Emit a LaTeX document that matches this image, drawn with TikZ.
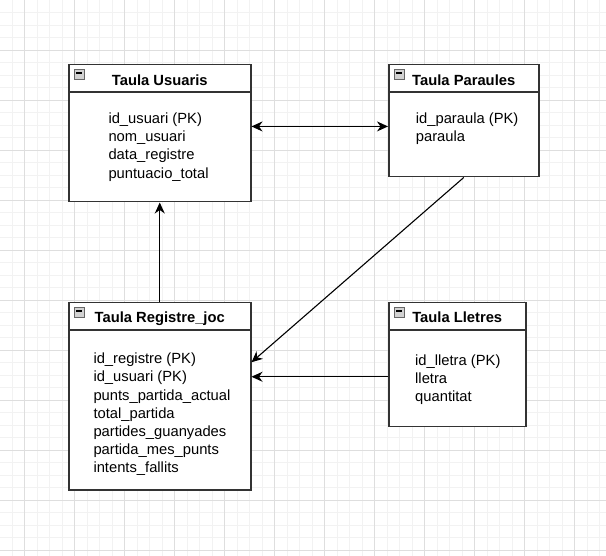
\documentclass[tikz,border=0pt]{standalone}
\usepackage{fontspec}
\setmainfont{Liberation Sans}
\usetikzlibrary{arrows.meta}
\definecolor{gridminor}{RGB}{242,242,242}
\definecolor{gridmajor}{RGB}{222,222,222}
\definecolor{boxline}{RGB}{51,51,51}
\begin{document}
\begin{tikzpicture}[x=1pt,y=1pt]
\tikzstyle{every node}+=[inner sep=0pt]
\tikzstyle{table}=[draw=boxline,line width=1.5pt,fill=white,anchor=north west]
\tikzstyle{title}=[anchor=base,font=\fontsize{14.75}{18}\selectfont\bfseries]
\tikzstyle{fields}=[anchor=north west,align=left,font=\fontsize{14.75}{18.2}\selectfont]
\tikzstyle{icon}=[draw=gray!80!black,fill=gray!35,line width=0.6pt,minimum size=10pt,
  path picture={\draw[black,line width=1.2pt] ([xshift=2pt,yshift=1pt]path picture bounding box.west) -- ([xshift=-2pt,yshift=1pt]path picture bounding box.east);}]
\tikzstyle{link}=[black,line width=1.1pt,-{Stealth[length=11pt,width=10pt,inset=3.5pt]}]
\useasboundingbox (0,0) rectangle (606,-556);
\foreach \i in {0,...,48} \draw [gridminor,line width=0.8pt] ({12.1+12.5*\i},0) -- ++(0,-556);
\foreach \i in {1,...,44} \draw [gridminor,line width=0.8pt] (0,{-12.5*\i}) -- ++(606,0);
\foreach \i in {0,...,11} \draw [gridmajor,line width=0.9pt] ({24.6+50*\i},0) -- ++(0,-556);
\foreach \i in {1,...,11} \draw [gridmajor,line width=0.9pt] (0,{-50*\i}) -- ++(606,0);
\node [table,minimum width=182pt,minimum height=137pt] (usuaris) at (68,-64) {};
\draw [boxline,line width=1.5pt] ([yshift=-28pt]usuaris.north west) -- ([yshift=-28pt]usuaris.north east);
\node [icon] (usuarisi) at ([xshift=11pt,yshift=-10pt]usuaris.north west) {};
\node [title] (usuarist) at ([yshift=-21.5pt]usuaris.north) {Taula Usuaris};
\node [fields] (usuarisf) at (108.3,-112.7) {id\_usuari (PK)\\nom\_usuari\\data\_registre\\puntuacio\_total};
\node [table,minimum width=150pt,minimum height=112pt] (paraules) at (388,-64) {};
\draw [boxline,line width=1.5pt] ([yshift=-28pt]paraules.north west) -- ([yshift=-28pt]paraules.north east);
\node [icon] (paraulesi) at ([xshift=11pt,yshift=-10pt]paraules.north west) {};
\node [title] (paraulest) at ([yshift=-21.5pt]paraules.north) {Taula Paraules};
\node [fields] (paraulesf) at (415.7,-112.7) {id\_paraula (PK)\\paraula};
\node [table,minimum width=182pt,minimum height=187pt] (registre) at (68,-302) {};
\draw [boxline,line width=1.5pt] ([yshift=-28pt]registre.north west) -- ([yshift=-28pt]registre.north east);
\node [icon] (registrei) at ([xshift=11pt,yshift=-10pt]registre.north west) {};
\node [title] (registret) at ([yshift=-21pt]registre.north) {Taula Registre\_joc};
\node [fields] (registref) at (93.3,-352.8) {id\_registre (PK)\\id\_usuari (PK)\\punts\_partida\_actual\\total\_partida\\partides\_guanyades\\partida\_mes\_punts\\intents\_fallits};
\node [table,minimum width=137pt,minimum height=124pt] (lletres) at (388,-302) {};
\draw [boxline,line width=1.5pt] ([yshift=-28pt]lletres.north west) -- ([yshift=-28pt]lletres.north east);
\node [icon] (lletresi) at ([xshift=11pt,yshift=-10pt]lletres.north west) {};
\node [title] (lletrest) at ([yshift=-21pt]lletres.north) {Taula Lletres};
\node [fields] (lletresf) at (415,-354.5) {id\_lletra (PK)\\lletra\\quantitat};
\coordinate (uright) at ([yshift=6.8pt]usuaris.east);
\coordinate (rtop) at ([yshift=34pt]registre.east);
\coordinate (lleft) at ([yshift=-12pt]lletres.west);
\draw [link,{Stealth[length=11pt,width=10pt,inset=3.5pt]}-{Stealth[length=11pt,width=10pt,inset=3.5pt]}] (uright) -- (uright -| paraules.west);
\draw [link] (registre.north) -- (usuaris.south);
\draw [link] (paraules.south) -- (rtop);
\draw [link] (lleft) -- (lleft -| registre.east);
\end{tikzpicture}
\end{document}
